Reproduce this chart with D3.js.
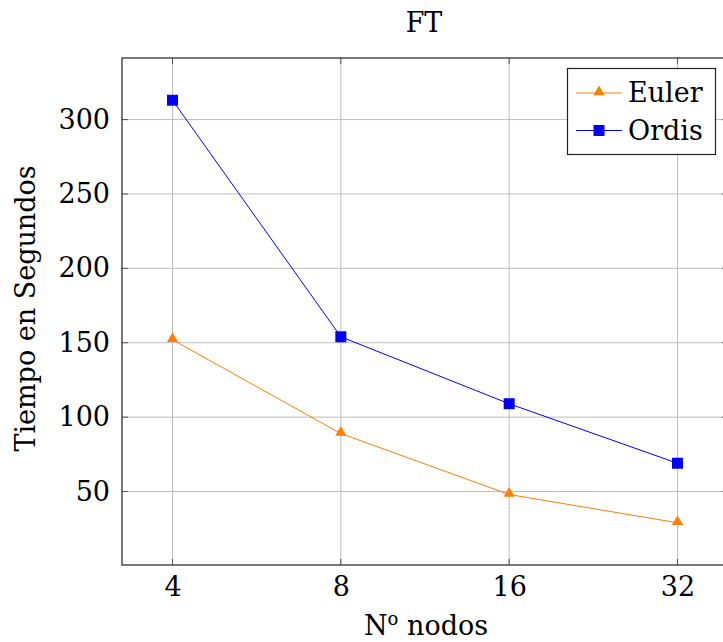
<!DOCTYPE html>
<html><head><meta charset="utf-8">
<script src="https://cdn.jsdelivr.net/npm/d3@7"></script>
<style>body{margin:0;background:#fff}svg{display:block}</style>
</head><body>
<script>
const nodes = [4, 8, 16, 32];
const euler = [152, 89, 48, 29];
const ordis = [313, 154, 109, 69];
const yTicks = [50, 100, 150, 200, 250, 300];
const title = "FT";
const yLabel = "Tiempo en Segundos";

const FONT = "'DejaVu Serif', 'Liberation Serif', serif";
const FS = 27;
const W = 723, H = 642;
const L = 122, R = 728, T = 58, B = 565;
const svg = d3.select("body").append("svg").attr("width", W).attr("height", H)
  .style("font-family", FONT);

const x = d3.scaleLog().base(2).domain([4 * Math.pow(2, -0.3), 32 * Math.pow(2, 0.3)]).range([L, R]);
const y = d3.scaleLinear().domain([0.6, 341.4]).range([B, T]);

const g = svg.append("g");
g.selectAll(".gx").data(nodes).enter().append("line")
  .attr("x1", d => x(d)).attr("x2", d => x(d)).attr("y1", T).attr("y2", B)
  .attr("stroke", "#bdbdbd").attr("stroke-width", 1);
g.selectAll(".gy").data(yTicks).enter().append("line")
  .attr("x1", L).attr("x2", R).attr("y1", d => y(d)).attr("y2", d => y(d))
  .attr("stroke", "#bdbdbd").attr("stroke-width", 1);

const xAxis = d3.axisBottom(x).tickValues(nodes).tickFormat(d3.format("d")).tickSize(0).tickPadding(12);
const ax = svg.append("g").attr("transform", `translate(0,${B})`).call(xAxis)
  .attr("font-family", null).attr("font-size", null);
ax.select(".domain").remove();
ax.selectAll("text").style("font-family", FONT).style("font-size", FS + "px").attr("fill", "#000");
const yAxis = d3.axisLeft(y).tickValues(yTicks).tickSize(0).tickPadding(12);
const ay = svg.append("g").attr("transform", `translate(${L},0)`).call(yAxis)
  .attr("font-family", null).attr("font-size", null);
ay.select(".domain").remove();
ay.selectAll("text").style("font-family", FONT).style("font-size", FS + "px").attr("fill", "#000");

const tk = svg.append("g").attr("stroke", "#555").attr("stroke-width", 1);
nodes.forEach(d => {
  tk.append("line").attr("x1", x(d)).attr("x2", x(d)).attr("y1", B).attr("y2", B - 6);
  tk.append("line").attr("x1", x(d)).attr("x2", x(d)).attr("y1", T).attr("y2", T + 6);
});
yTicks.forEach(d => {
  tk.append("line").attr("x1", L).attr("x2", L + 6).attr("y1", y(d)).attr("y2", y(d));
  tk.append("line").attr("x1", R).attr("x2", R - 6).attr("y1", y(d)).attr("y2", y(d));
});

svg.append("rect").attr("x", L).attr("y", T).attr("width", R - L).attr("height", B - T)
  .attr("fill", "none").attr("stroke", "#222").attr("stroke-width", 1.2);

const line = d3.line().x((d, i) => x(nodes[i])).y(d => y(d));
const orange = "#ff7f00", blue = "#0000ff";
svg.append("path").datum(euler).attr("d", line).attr("fill", "none").attr("stroke", orange).attr("stroke-width", 1);
svg.append("path").datum(ordis).attr("d", line).attr("fill", "none").attr("stroke", blue).attr("stroke-width", 1);

const tri = d3.symbol().type(d3.symbolTriangle).size(55);
svg.selectAll(".te").data(euler).enter().append("path")
  .attr("d", tri).attr("transform", (d, i) => `translate(${x(nodes[i])},${y(d) - 1})`).attr("fill", orange);
svg.selectAll(".so").data(ordis).enter().append("rect")
  .attr("x", (d, i) => x(nodes[i]) - 5.5).attr("y", d => y(d) - 5.5).attr("width", 11).attr("height", 11).attr("fill", blue);

const lg = svg.append("g");
lg.append("rect").attr("x", 567.5).attr("y", 68.5).attr("width", 148).attr("height", 86)
  .attr("fill", "#fff").attr("stroke", "#222").attr("stroke-width", 1.2);
const items = [{name: "Euler", c: orange, t: "tri", yy: 93}, {name: "Ordis", c: blue, t: "sq", yy: 130.5}];
items.forEach(it => {
  lg.append("line").attr("x1", 576).attr("x2", 622).attr("y1", it.yy).attr("y2", it.yy).attr("stroke", it.c).attr("stroke-width", 1);
  if (it.t === "tri") lg.append("path").attr("d", tri).attr("transform", `translate(599,${it.yy - 1})`).attr("fill", it.c);
  else lg.append("rect").attr("x", 593.5).attr("y", it.yy - 5.5).attr("width", 11).attr("height", 11).attr("fill", it.c);
  lg.append("text").attr("x", 628).attr("y", it.yy + 9).style("font-size", FS + "px").text(it.name);
});

svg.append("text").attr("x", 424).attr("y", 32).attr("text-anchor", "middle").style("font-size", FS + "px").text(title);
const xl = svg.append("text").attr("x", 426).attr("y", 635).attr("text-anchor", "middle").style("font-size", FS + "px");
xl.append("tspan").text("N");
xl.append("tspan").style("font-size", "18px").attr("dy", -10).text("o");
xl.append("tspan").attr("dy", 10).text(" nodos");
svg.append("text").attr("transform", `translate(35,${(T + B) / 2 - 3}) rotate(-90)`).attr("text-anchor", "middle").style("font-size", FS + "px").text(yLabel);
</script>
</body></html>
